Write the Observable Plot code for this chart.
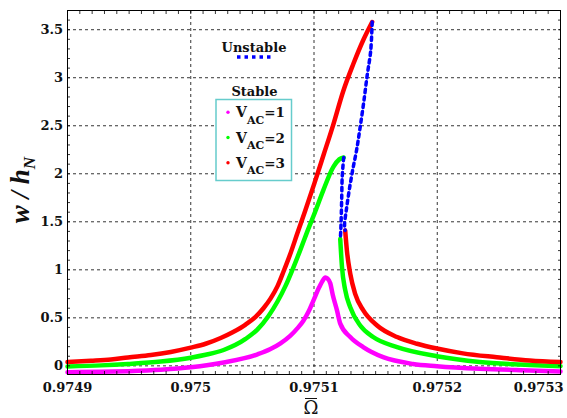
<!DOCTYPE html>
<html><head><meta charset="utf-8">
<script src="https://cdn.jsdelivr.net/npm/d3@7"></script>
<script src="https://cdn.jsdelivr.net/npm/@observablehq/plot@0.6"></script>
<style>html,body{margin:0;padding:0;background:#fff} svg{display:block}</style>
</head><body><div id="chart"></div>
<script>
// ---- ticks ----
const xTicks = [0.9749, 0.975, 0.9751, 0.9752, 0.9753];
const xTickLabels = ["0.9749", "0.975", "0.9751", "0.9752", "0.9753"];
const yTicks = [0, 0.5, 1, 1.5, 2, 2.5, 3, 3.5];
const yTickLabels = ["0", "0.5", "1", "1.5", "2", "2.5", "3", "3.5"];

// ---- series ----
const seriesLabels = ["1", "2", "3"];
const seriesColors = ["#ff00ff", "#00ff00", "#ff0000"];
const unstableColor = "#0000ff";

// V_AC = 1 (stable)
const omega1 = [0.97490, 0.9749272, 0.9749491, 0.9749757, 0.9750000, 0.9750267, 0.9750542, 0.9750647, 0.9750728, 0.9750809, 0.9750865, 0.9750914, 0.9750954, 0.9750995, 0.9751043, 0.9751067, 0.9751092, 0.9751108, 0.9751132, 0.9751152, 0.9751186, 0.9751213, 0.9751294, 0.9751399, 0.9751561, 0.9751803, 0.9751997, 0.9752345, 0.9752750, 0.97530];
const w1 = [-0.066, -0.062, -0.055, -0.04, -0.015, 0.035, 0.12, 0.175, 0.235, 0.315, 0.39, 0.47, 0.56, 0.68, 0.82, 0.88, 0.92, 0.91, 0.86, 0.74, 0.58, 0.44, 0.30, 0.195, 0.09, 0.02, -0.003, -0.03, -0.048, -0.058];

// V_AC = 2 (stable upper branch)
const omega2up = [0.97490, 0.9749272, 0.9749491, 0.9749757, 0.9750000, 0.9750121, 0.9750267, 0.9750445, 0.9750542, 0.9750631, 0.9750704, 0.9750768, 0.9750825, 0.9750890, 0.9750946, 0.9751011, 0.9751076, 0.9751156, 0.9751205, 0.9751241];
const w2up = [-0.006, 0.005, 0.02, 0.045, 0.085, 0.115, 0.165, 0.28, 0.38, 0.52, 0.67, 0.83, 1.0, 1.21, 1.40, 1.61, 1.83, 2.07, 2.15, 2.17];
// V_AC = 2 (stable lower branch)
const omega2lo = [0.9751213, 0.9751227, 0.9751253, 0.9751294, 0.9751375, 0.9751480, 0.9751674, 0.9751997, 0.9752345, 0.9752750, 0.97530];
const w2lo = [1.32, 1.03, 0.79, 0.61, 0.42, 0.30, 0.195, 0.10, 0.04, 0.01, -0.003];
// V_AC = 2 (unstable)
const omega2un = [0.9751241, 0.9751229, 0.9751225, 0.9751221, 0.9751217, 0.9751213];
const w2un = [2.17, 1.97, 1.76, 1.55, 1.40, 1.32];

// V_AC = 3 (stable upper branch)
const omega3up = [0.97490, 0.9749191, 0.9749353, 0.9749491, 0.9749677, 0.9749838, 0.9750000, 0.9750121, 0.9750243, 0.9750340, 0.9750445, 0.9750526, 0.9750590, 0.9750647, 0.9750704, 0.9750752, 0.9750809, 0.9750865, 0.9750930, 0.9751003, 0.9751076, 0.9751156, 0.9751237, 0.9751318, 0.9751399, 0.9751472];
const w3up = [0.04, 0.053, 0.067, 0.088, 0.113, 0.145, 0.19, 0.23, 0.29, 0.35, 0.43, 0.51, 0.60, 0.70, 0.83, 0.98, 1.17, 1.38, 1.62, 1.90, 2.19, 2.51, 2.86, 3.14, 3.39, 3.58];
// V_AC = 3 (stable lower branch)
const omega3lo = [0.9751253, 0.9751267, 0.9751294, 0.9751334, 0.9751399, 0.9751512, 0.9751674, 0.9751836, 0.9751997, 0.9752208, 0.9752483, 0.9752750, 0.97530];
const w3lo = [1.41, 1.20, 0.96, 0.75, 0.58, 0.42, 0.30, 0.23, 0.18, 0.13, 0.09, 0.056, 0.04];
// V_AC = 3 (unstable)
const omega3un = [0.9751472, 0.9751460, 0.9751431, 0.9751403, 0.9751375, 0.9751346, 0.9751314, 0.9751286, 0.9751262, 0.9751248, 0.9751253];
const w3un = [3.58, 3.28, 3.02, 2.74, 2.49, 2.25, 2.04, 1.83, 1.62, 1.47, 1.41];

const pts = (xs, ys) => xs.map((x, i) => ({x, y: ys[i]}));

const xMinor = d3.range(0, 41).map(i => +(0.9749 + i * 0.00001).toFixed(6));
const yMinor = d3.range(0, 38).map(i => i / 10);

const tickStyle = {stroke: "#000", strokeWidth: 0.8, text: null, label: null};
const stableStyle = {x: "x", y: "y", strokeWidth: 4.5, curve: "monotone-x"};
const unstableStyle = {x: "x", y: "y", stroke: unstableColor, strokeWidth: 3.5, strokeDasharray: "3.5,4", curve: "catmull-rom"};
const fmtX = d => xTickLabels[xTicks.indexOf(d)];
const fmtY = d => yTickLabels[yTicks.indexOf(d)];

const plot = Plot.plot({
  width: 567, height: 418,
  marginLeft: 67, marginRight: 7, marginTop: 10, marginBottom: 44,
  style: {fontFamily: "'DejaVu Serif', serif", fontWeight: "bold", fontSize: "13px", color: "#111", background: "#fff"},
  x: {domain: [0.9749, 0.9753], axis: null},
  y: {domain: [-0.09, 3.70], axis: null},
  marks: [
    Plot.gridX(xTicks.slice(1, -1), {stroke: "#000", strokeOpacity: 1, strokeWidth: 0.8, strokeDasharray: "3,3"}),
    Plot.gridY(yTicks, {stroke: "#000", strokeOpacity: 1, strokeWidth: 0.8, strokeDasharray: "3,3"}),
    Plot.line(pts(omega1, w1), {...stableStyle, stroke: seriesColors[0]}),
    Plot.line(pts(omega2up, w2up), {...stableStyle, stroke: seriesColors[1]}),
    Plot.line(pts(omega2lo, w2lo), {...stableStyle, stroke: seriesColors[1]}),
    Plot.line(pts(omega3up, w3up), {...stableStyle, stroke: seriesColors[2]}),
    Plot.line(pts(omega3lo, w3lo), {...stableStyle, stroke: seriesColors[2]}),
    Plot.line(pts(omega2un, w2un), unstableStyle),
    Plot.line(pts(omega3un, w3un), unstableStyle),
    Plot.frame({stroke: "#000", strokeWidth: 1}),
    Plot.axisX(xMinor, {anchor: "bottom", tickSize: -3, ...tickStyle}),
    Plot.axisX(xMinor, {anchor: "top", tickSize: -3, ...tickStyle}),
    Plot.axisY(yMinor, {anchor: "left", tickSize: -3, ...tickStyle}),
    Plot.axisY(yMinor, {anchor: "right", tickSize: -3, ...tickStyle}),
    Plot.axisX(xTicks.slice(0, 4), {anchor: "bottom", tickSize: 0, tickPadding: 8, tickFormat: fmtX, label: null}),
    Plot.axisX(xTicks.slice(4), {anchor: "bottom", tickSize: 0, tickPadding: 8, tickFormat: fmtX, textAnchor: "end", dx: 3, label: null}),
    Plot.axisY(yTicks, {anchor: "left", tickSize: 0, tickPadding: 4.5, tickFormat: fmtY, label: null})
  ]
});
document.getElementById("chart").appendChild(plot);

// ---- labels and in-plot legend ----
const svg = d3.select(plot);
// y label: w / h_N
const yl = svg.append("text")
  .attr("transform", "translate(29,190) rotate(-90)")
  .attr("text-anchor", "middle")
  .attr("font-family", "'Liberation Serif', serif")
  .attr("font-style", "italic").attr("font-weight", "bold")
  .attr("font-size", 27).attr("fill", "#111");
yl.append("tspan").text("w / h");
yl.append("tspan").attr("font-size", 17).attr("dy", 6).text("N");

// x label: Omega bar
svg.append("text").attr("x", 311).attr("y", 414).attr("text-anchor", "middle")
  .attr("font-family", "'DejaVu Serif', serif").attr("font-weight", "normal")
  .attr("font-size", 18).attr("fill", "#111").text("Ω");
svg.append("line").attr("x1", 305).attr("x2", 317).attr("y1", 398.5).attr("y2", 398.5)
  .attr("stroke", "#111").attr("stroke-width", 1);

const lg = svg.append("g").attr("font-family", "'DejaVu Serif', serif").attr("font-weight", "bold").attr("fill", "#111").attr("text-anchor", "start");
lg.append("text").attr("x", 254).attr("y", 51.5).attr("text-anchor", "middle").attr("font-size", 13).text("Unstable");
lg.append("line").attr("x1", 237).attr("x2", 273).attr("y1", 57).attr("y2", 57)
  .attr("stroke", unstableColor).attr("stroke-width", 3.5).attr("stroke-dasharray", "3.5,4");
lg.append("text").attr("x", 254.5).attr("y", 96).attr("text-anchor", "middle").attr("font-size", 13).text("Stable");
lg.append("rect").attr("x", 216).attr("y", 99.5).attr("width", 75.5).attr("height", 81)
  .attr("fill", "#fff").attr("stroke", "#66cccc").attr("stroke-width", 1.5);
seriesLabels.forEach((s, i) => {
  const cy = 112.3 + i * 25.2;
  lg.append("circle").attr("cx", 228).attr("cy", cy).attr("r", 1.7).attr("fill", seriesColors[i]);
  const t = lg.append("text").attr("x", 236).attr("y", cy + 5).attr("font-size", 14).attr("text-anchor", "start");
  t.append("tspan").text("V");
  t.append("tspan").attr("font-size", 11).attr("dy", 6.5).text("AC");
  t.append("tspan").attr("font-size", 13.5).attr("dy", -6.5).text("=" + s);
});
</script>
</body></html>
